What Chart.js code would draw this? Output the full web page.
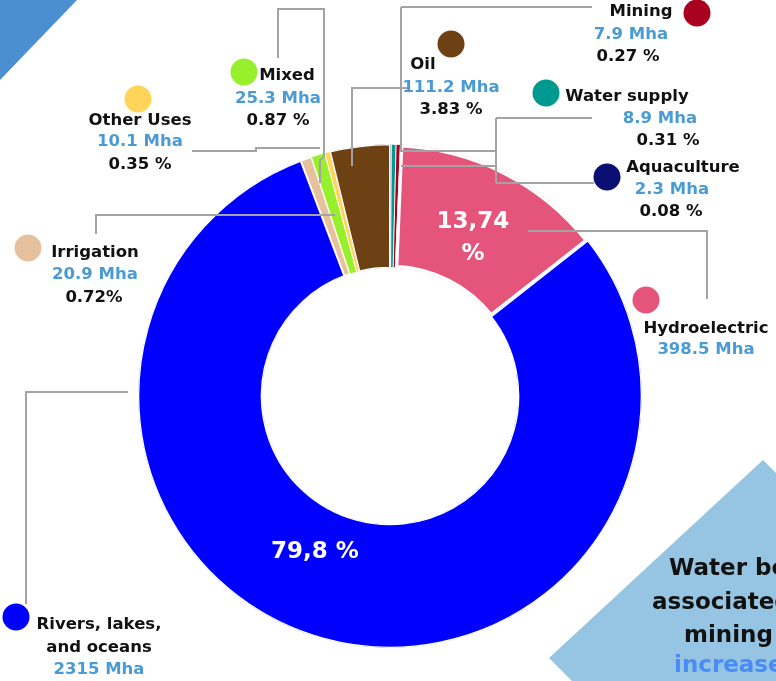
<!DOCTYPE html>
<html>
<head>
<meta charset="utf-8">
<script src="https://cdn.jsdelivr.net/npm/chart.js@4"></script>
<style>
  html, body { margin: 0; padding: 0; background: #fff; overflow: hidden; }
  #wrap { position: relative; width: 776px; height: 681px; overflow: hidden; }
  #wrap canvas { position: absolute; left: 0; top: 0; }
  .txt {
    position: absolute; transform: translate(-50%, -50%); white-space: nowrap;
    font-family: "DejaVu Sans", sans-serif; font-weight: 700; font-size: 16.5px; color: #111;
  }
  .txt.val { color: #4a9bd4; }
  .txt.inner { color: #fff; font-size: 23px; }
  .dot { position: absolute; border-radius: 50%; width: 27px; height: 27px; transform: translate(-50%, -50%); }
  .side {
    position: absolute; white-space: nowrap; font-family: "DejaVu Sans", sans-serif;
    font-weight: 700; font-size: 23px; color: #111; transform: translateY(-50%);
  }
</style>
</head>
<body>
<div id="wrap">
  <canvas id="chart" width="776" height="681"></canvas>
</div>
<script>
// values, clockwise from 12 o'clock
const categories = ["Aquaculture", "Water supply", "Mining", "Hydroelectric", "Rivers, lakes, and oceans", "Irrigation", "Mixed", "Other Uses", "Oil"];
const areaMha = [2.3, 8.9, 7.9, 398.5, 2315, 20.9, 25.3, 10.1, 111.2];
const shareLabels = ["0.08 %", "0.31 %", "0.27 %", "13,74 %", "79,8 %", "0.72%", "0.87 %", "0.35 %", "3.83 %"];
const sliceColors = ["#0b0f73", "#00998f", "#a8001e", "#e5547a", "#0000ff", "#e6c19d", "#97f02b", "#ffd45a", "#6e4114"];

// where each callout sits: dot, name line(s), value line, share line
const callouts = [
  { dot: [607, 177], name: [[683, 166]], val: [672, 188], pct: [671, 210] },
  { dot: [546, 93], name: [[627, 95]], val: [660, 117], pct: [668, 139] },
  { dot: [697, 13], name: [[641, 10]], val: [631, 33], pct: [628, 55] },
  { dot: [646, 300], name: [[706, 327]], val: [706, 348], pct: null, inner: [[473, 220], [473, 252]] },
  { dot: [16, 617], name: [[99, 623], [99, 646]], split: 14, val: [99, 668], pct: null, inner: [[315, 550]] },
  { dot: [28, 248], name: [[95, 251]], val: [95, 273], pct: [94, 296] },
  { dot: [244, 72], name: [[287, 74]], val: [278, 97], pct: [278, 119] },
  { dot: [138, 99], name: [[140, 119]], val: [140, 140], pct: [140, 163] },
  { dot: [451, 44], name: [[423, 63]], val: [451, 86], pct: [451, 108] },
];

const leaderLines = [
  [[401, 7], [592, 7]],
  [[401, 7], [401, 151], [496, 151]],
  [[401, 166], [496, 166]],
  [[496, 118], [496, 183]],
  [[496, 118], [592, 118]],
  [[496, 183], [594, 183]],
  [[352, 166], [352, 88], [408, 88]],
  [[278, 58], [278, 9], [324, 9], [324, 157], [320, 160], [320, 183]],
  [[192, 151], [256, 151], [256, 148], [320, 148]],
  [[96, 234], [96, 215], [335, 215]],
  [[128, 392], [26, 392], [26, 604]],
  [[528, 231], [707, 231], [707, 299]],
];

const decor = {
  id: "decor",
  beforeDraw(chart) {
    const ctx = chart.ctx;
    ctx.save();
    ctx.fillStyle = "#4b8fd0";
    ctx.beginPath();
    ctx.moveTo(0, 0); ctx.lineTo(77, 0); ctx.lineTo(0, 80); ctx.closePath();
    ctx.fill();
    ctx.fillStyle = "#95c5e3";
    ctx.beginPath();
    ctx.moveTo(763, 460); ctx.lineTo(800, 497); ctx.lineTo(800, 690);
    ctx.lineTo(581, 690); ctx.lineTo(549, 658); ctx.closePath();
    ctx.fill();
    ctx.restore();
  },
  afterDatasetsDraw(chart) {
    const ctx = chart.ctx;
    ctx.save();
    ctx.strokeStyle = "#a3a3a3";
    ctx.lineWidth = 2;
    leaderLines.forEach((pts) => {
      ctx.beginPath();
      pts.forEach(([x, y], i) => (i ? ctx.lineTo(x, y) : ctx.moveTo(x, y)));
      ctx.stroke();
    });
    ctx.restore();
  },
};

new Chart(document.getElementById("chart"), {
  type: "doughnut",
  data: {
    labels: categories,
    datasets: [{
      data: areaMha,
      backgroundColor: sliceColors,
      borderColor: "#ffffff",
      borderWidth: [0.5, 0.5, 0.5, 3, 1, 1, 0.5, 0.5, 1],
      borderAlign: "inner",
      hoverOffset: 0,
    }],
  },
  options: {
    responsive: false,
    animation: false,
    radius: 252,
    cutout: 128,
    rotation: 0,
    layout: { padding: { left: 138, right: 134, top: 144, bottom: 33 } },
    plugins: { legend: { display: false }, tooltip: { enabled: false } },
    events: [],
  },
  plugins: [decor],
});

// callout text as real text
const wrap = document.getElementById("wrap");
const addText = (cls, text, x, y) => {
  const el = document.createElement("div");
  el.className = "txt " + cls;
  el.textContent = text;
  el.style.left = x + "px";
  el.style.top = y + "px";
  wrap.appendChild(el);
};

categories.forEach((name, i) => {
  const c = callouts[i];
  const dot = document.createElement("div");
  dot.className = "dot";
  dot.style.left = c.dot[0] + "px";
  dot.style.top = c.dot[1] + "px";
  dot.style.background = sliceColors[i];
  wrap.appendChild(dot);

  const nameLines = c.split ? [name.slice(0, c.split), name.slice(c.split + 1)] : [name];
  nameLines.forEach((line, k) => addText("", line, c.name[k][0], c.name[k][1]));
  addText("val", `${areaMha[i]} Mha`, c.val[0], c.val[1]);
  if (c.pct) addText("", shareLabels[i], c.pct[0], c.pct[1]);
  if (c.inner) {
    const parts = c.inner.length > 1 ? shareLabels[i].split(" ") : [shareLabels[i]];
    parts.forEach((p, k) => addText("inner", p, c.inner[k][0], c.inner[k][1]));
  }
});

const sideText = [
  { text: "Water bo", x: 669, y: 567, color: "#111" },
  { text: "associated", x: 652, y: 601, color: "#111" },
  { text: "mining", x: 684, y: 634, color: "#111" },
  { text: "increase", x: 674, y: 664, color: "#4a8cf5" },
];
sideText.forEach((s) => {
  const el = document.createElement("div");
  el.className = "side";
  el.textContent = s.text;
  el.style.left = s.x + "px";
  el.style.top = s.y + "px";
  el.style.color = s.color;
  wrap.appendChild(el);
});
</script>
</body>
</html>
